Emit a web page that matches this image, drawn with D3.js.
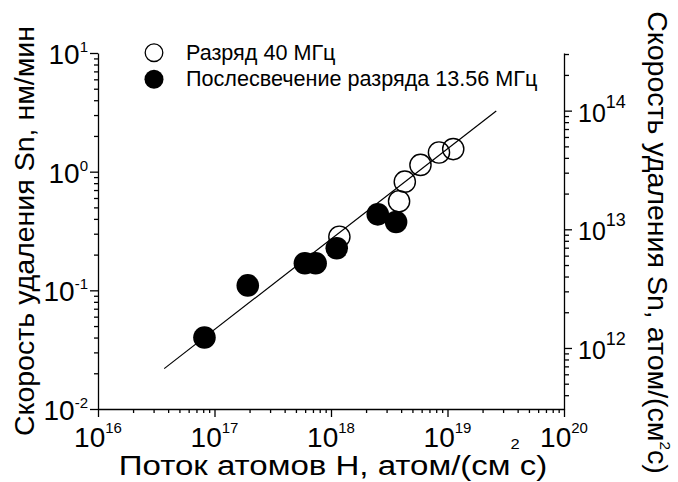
<!DOCTYPE html>
<html>
<head>
<meta charset="utf-8">
<script src="https://cdn.jsdelivr.net/npm/d3@7"></script>
<style>
  body { margin: 0; background: #fff; }
  svg { font-family: "Liberation Sans", Arial, sans-serif; }
</style>
</head>
<body>
<svg id="chart" width="678" height="482"></svg>
<script>
// Разряд 40 МГц (открытые кружки)
var dischargeX = [1.18e18, 3.84e18, 4.30e18, 5.86e18, 8.45e18, 1.12e19];
var dischargeY = [0.283, 0.563, 0.824, 1.14, 1.45, 1.55];

// Послесвечение разряда 13.56 МГц (закрашенные)
var afterglowX = [8.2e16, 1.93e17, 5.97e17, 7.38e17, 1.12e18, 2.52e18, 3.62e18];
var afterglowY = [0.040, 0.110, 0.169, 0.169, 0.226, 0.437, 0.377];

// линия аппроксимации
var fitX = [3.7e16, 2.62e19];
var fitY = [0.0219, 3.25];

var xDomain = [1e16, 1e20];
var yDomain = [1e-2, 1e1];
var rightFactor = 3.06e13; // нм/мин -> атом/(см2 с)

var xMajor = [16, 17, 18, 19, 20];
var yMajor = [-2, -1, 0, 1];
var rMajor = [12, 13, 14];

var svg = d3.select("#chart"),
  margin = { top: 53, right: 114, bottom: 73, left: 98 },
  width = +svg.attr("width") - margin.left - margin.right,
  height = +svg.attr("height") - margin.top - margin.bottom;

var x = d3.scaleLog().domain(xDomain).range([margin.left, margin.left + width]);
var y = d3.scaleLog().domain(yDomain).range([margin.top + height, margin.top]);
var yR = d3.scaleLog()
  .domain([yDomain[0] * rightFactor, yDomain[1] * rightFactor])
  .range([margin.top + height, margin.top]);

function minorTicks(scale) {
  return scale.ticks().filter(function (v) {
    var l = Math.log10(v);
    return Math.abs(l - Math.round(l)) > 1e-6;
  });
}

function styleAxis(g) {
  g.select(".domain").attr("stroke", "#000").attr("stroke-width", 1.3);
  g.selectAll(".tick line").attr("stroke", "#000").attr("stroke-width", 1.3);
}

// нижняя ось
var gx = svg.append("g").attr("transform", "translate(0," + (margin.top + height) + ")");
gx.call(d3.axisBottom(x).tickValues(xMajor.map(function (p) { return Math.pow(10, p); }))
  .tickSize(8).tickSizeOuter(0).tickFormat(""));
gx.append("g").call(d3.axisBottom(x).tickValues(minorTicks(x)).tickSize(4).tickFormat(""))
  .select(".domain").remove();
styleAxis(gx);

// левая ось
var gy = svg.append("g").attr("transform", "translate(" + margin.left + ",0)");
gy.call(d3.axisLeft(y).tickValues(yMajor.map(function (p) { return Math.pow(10, p); }))
  .tickSize(8).tickSizeOuter(0).tickFormat(""));
gy.append("g").call(d3.axisLeft(y).tickValues(minorTicks(y)).tickSize(4).tickFormat(""))
  .select(".domain").remove();
styleAxis(gy);

// правая ось
var gr = svg.append("g").attr("transform", "translate(" + (margin.left + width) + ",0)");
gr.call(d3.axisRight(yR).tickValues(rMajor.map(function (p) { return Math.pow(10, p); }))
  .tickSize(8).tickSizeOuter(0).tickFormat(""));
gr.append("g").call(d3.axisRight(yR).tickValues(minorTicks(yR)).tickSize(5).tickFormat(""))
  .select(".domain").remove();
styleAxis(gr);

// подписи делений 10^n
function powLabel(sel, p, size, supSize, rise) {
  sel.append("tspan").attr("font-size", size).text("10");
  sel.append("tspan").attr("font-size", supSize).attr("dy", -rise).text(p);
}

xMajor.forEach(function (p) {
  svg.append("text")
    .attr("x", x(Math.pow(10, p)))
    .attr("y", margin.top + height + 38)
    .attr("text-anchor", "middle")
    .call(powLabel, p, 28, 15, 14);
});

yMajor.forEach(function (p) {
  svg.append("text")
    .attr("x", margin.left - 10)
    .attr("y", y(Math.pow(10, p)) + 11)
    .attr("text-anchor", "end")
    .call(powLabel, p, 28, 15, 12);
});

rMajor.forEach(function (p) {
  svg.append("text")
    .attr("x", margin.left + width + 14)
    .attr("y", yR(Math.pow(10, p)) + 11)
    .attr("text-anchor", "start")
    .call(powLabel, p, 25, 18, 14);
});

// подписи осей
var xt = svg.append("text")
  .attr("transform", "translate(" + (margin.left + width / 2 + 2) + ",475) scale(1.18,1)")
  .attr("text-anchor", "middle")
  .attr("font-size", 28);
xt.append("tspan").text("Поток атомов H, атом/(см");
xt.append("tspan").attr("font-size", 14).attr("dy", -26).text("2");
xt.append("tspan").attr("dy", 26).text("с)");

svg.append("text")
  .attr("transform", "translate(33.5," + (margin.top + height / 2) + ") rotate(-90) scale(1.02,1)")
  .attr("text-anchor", "middle")
  .attr("font-size", 28)
  .text("Скорость удаления Sn, нм/мин");

var rt = svg.append("text")
  .attr("transform", "translate(648,242.5) rotate(90) scale(1.02,1)")
  .attr("text-anchor", "middle")
  .attr("font-size", 28);
rt.append("tspan").text("Скорость удаления Sn, атом/(см");
rt.append("tspan").attr("font-size", 15).attr("dy", -12).text("2");
rt.append("tspan").attr("dy", 12).text("с)");

// линия аппроксимации
var fit = fitX.map(function (v, i) { return { x: v, y: fitY[i] }; });
var lineGenerator = d3.line()
  .x(function (d) { return x(d.x); })
  .y(function (d) { return y(d.y); });
svg.append("path")
  .datum(fit)
  .attr("fill", "none")
  .attr("stroke", "#000")
  .attr("stroke-width", 1.2)
  .attr("d", lineGenerator);

// точки
var afterglow = afterglowX.map(function (v, i) { return { x: v, y: afterglowY[i] }; });
var discharge = dischargeX.map(function (v, i) { return { x: v, y: dischargeY[i] }; });

svg.append("g").selectAll("circle")
  .data(afterglow)
  .enter()
  .append("circle")
  .attr("cx", function (d) { return x(d.x); })
  .attr("cy", function (d) { return y(d.y); })
  .attr("r", 11.3)
  .attr("fill", "#000");

svg.append("g").selectAll("circle")
  .data(discharge)
  .enter()
  .append("circle")
  .attr("cx", function (d) { return x(d.x); })
  .attr("cy", function (d) { return y(d.y); })
  .attr("r", 10.6)
  .attr("fill", "none")
  .attr("stroke", "#000")
  .attr("stroke-width", 1.4);

// легенда
var legend = svg.append("g");
legend.append("circle")
  .attr("cx", 154).attr("cy", 52.7).attr("r", 8.8)
  .attr("fill", "#fff").attr("stroke", "#000").attr("stroke-width", 1.3);
legend.append("text")
  .attr("x", 186).attr("y", 59.5).attr("font-size", 21.6)
  .text("Разряд 40 МГц");
legend.append("circle")
  .attr("cx", 154).attr("cy", 79.3).attr("r", 9.5)
  .attr("fill", "#000");
legend.append("text")
  .attr("x", 186).attr("y", 86).attr("font-size", 21.6)
  .text("Послесвечение разряда 13.56 МГц");
</script>
</body>
</html>
